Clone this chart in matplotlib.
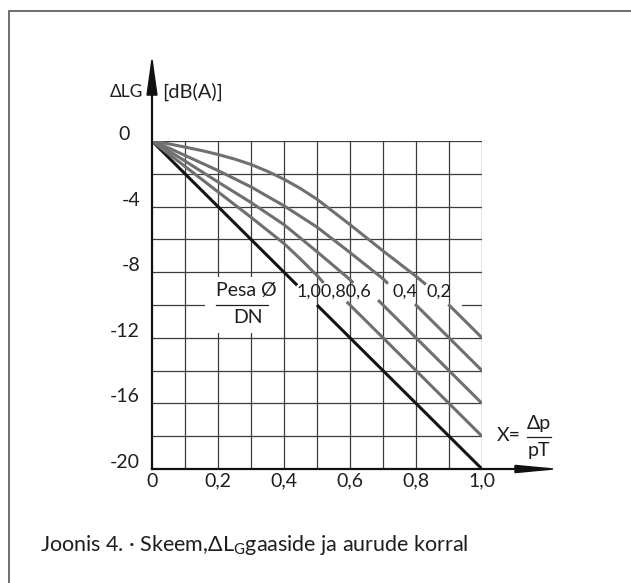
import numpy as np
import matplotlib
matplotlib.use("Agg")
import matplotlib.pyplot as plt
from matplotlib.patches import Rectangle, Polygon

plt.rcParams['font.family'] = ['Lato', 'DejaVu Sans']

# andmed (loetud pildilt)
x_ticks = [0, 0.2, 0.4, 0.6, 0.8, 1.0]
x_tick_labels = ['0', '0,2', '0,4', '0,6', '0,8', '1,0']
y_ticks = [0, -4, -8, -12, -16, -20]
y_tick_labels = ['0', '-4', '-8', '-12', '-16', '-20']

ratio_labels = ['1,0', '0,8', '0,6', '0,4', '0,2']

# ulemine (kover) osa
upper_x = [
    [0, 0.44],
    [0, 0.05, 0.1, 0.2, 0.3, 0.4, 0.45, 0.5, 0.52],
    [0, 0.05, 0.1, 0.2, 0.3, 0.4, 0.5, 0.6, 0.61],
    [0, 0.05, 0.1, 0.2, 0.3, 0.4, 0.5, 0.6, 0.7, 0.715],
    [0, 0.05, 0.1, 0.15, 0.2, 0.25, 0.3, 0.35, 0.4, 0.45, 0.5, 0.6, 0.7, 0.8, 0.83],
]
upper_y = [
    [0, -8.8],
    [0, -0.78, -1.55, -3.1, -4.65, -6.25, -7.2, -8.2, -8.65],
    [0, -0.6, -1.22, -2.5, -3.75, -5.1, -6.75, -8.45, -8.65],
    [0, -0.42, -0.88, -1.8, -2.8, -3.95, -5.25, -6.8, -8.4, -8.7],
    [0, -0.17, -0.37, -0.58, -0.82, -1.1, -1.43, -1.85, -2.33, -2.9, -3.55, -5.1, -6.7, -8.25, -8.75],
]
# alumine (sirge) osa
lower_x0 = [0.5, 0.59, 0.685, 0.797, 0.898]
lower_y0 = [-10, -9.8, -9.7, -9.94, -9.96]
lower_x1 = [1.0, 1.0, 1.0, 1.0, 1.0]
lower_y1 = [-20, -18, -16, -14, -12]

line_colors = ['#141414', '#6f6f6f', '#6f6f6f', '#6f6f6f', '#6f6f6f']

fig = plt.figure(figsize=(6.31, 5.83), dpi=100)
fig.patch.set_facecolor('white')
fig.patches.append(Rectangle((9/631, -0.1), 1.2, 1.1 - 11/583, transform=fig.transFigure,
                             fill=False, edgecolor='#555555', lw=1.2))

ax = fig.add_axes([152/631, 1 - 469/583, 330/631, 328/583])
ax.set_xlim(0, 1)
ax.set_ylim(-20, 0)
ax.axis('off')

grid_col = '#3c3c3c'
# ruudustik
for gx in np.arange(0.1, 1.01, 0.1):
    ax.plot([gx, gx], [-20, 0], color=grid_col, lw=0.9, zorder=1)
for gy in np.arange(-18, 0.1, 2):
    if gy == -10:
        ax.plot([0, 0.16], [gy, gy], color=grid_col, lw=0.9, zorder=1)
        ax.plot([0.94, 1.0], [gy, gy], color=grid_col, lw=0.9, zorder=1)
    else:
        ax.plot([0, 1], [gy, gy], color=grid_col, lw=0.9, zorder=1)

# valge ala sildi taga
ax.add_patch(Rectangle((0.16, -11.7), 0.21, 3.4, facecolor='white', edgecolor='none', zorder=2))

# teljed ja nooled
ax.plot([0, 0], [-20, 4.76], color='#111111', lw=1.6, clip_on=False, zorder=5)
ax.plot([0, 1.2], [-20, -20], color='#111111', lw=1.6, clip_on=False, zorder=5)
ax.add_patch(Polygon([[0, 4.95], [-0.015, 2.8], [0.015, 2.8]], closed=True,
                     color='#111111', clip_on=False, zorder=6))
ax.add_patch(Polygon([[1.215, -20], [1.1, -19.78], [1.1, -20.22]], closed=True,
                     color='#111111', clip_on=False, zorder=6))

for i in range(len(upper_x)):
    ax.plot(upper_x[i], upper_y[i], color=line_colors[i], lw=2.2,
            solid_capstyle='butt', solid_joinstyle='round', zorder=4)
    ax.plot([lower_x0[i], lower_x1[i]], [lower_y0[i], lower_y1[i]], color=line_colors[i],
            lw=2.2, solid_capstyle='butt', zorder=4)

fs = 14
tc = '#1e1e1e'
for xv, lab in zip(x_ticks, x_tick_labels):
    ax.text(xv, -20.75, lab, ha='center', va='center', fontsize=fs, color=tc)
for yv, lab in zip(y_ticks, y_tick_labels):
    xx = -0.067 if lab == '0' else -0.036
    ax.text(xx, yv + 0.4, lab, ha='right', va='center', fontsize=fs, color=tc)

ax.text(-0.027, 3.0, 'ΔLG', ha='right', va='center', fontsize=12.5, color=tc)
ax.text(0.03, 3.0, '[dB(A)]', ha='left', va='center', fontsize=14.5, color=tc)

# suhte sildid: kolm esimest on pildil kokku kirjutatud
ax.text(0.437, -9.2, ''.join(ratio_labels[:3]), ha='left', va='center', fontsize=13,
        color=tc, zorder=7)
ax.text(0.73, -9.2, ratio_labels[3], ha='left', va='center', fontsize=13, color=tc, zorder=7)
ax.text(0.832, -9.2, ratio_labels[4], ha='left', va='center', fontsize=13, color=tc, zorder=7)

ax.text(0.285, -9.1, 'Pesa Ø', ha='center', va='center', fontsize=14, color=tc, zorder=7)
ax.plot([0.194, 0.352], [-10, -10], color=tc, lw=0.9, zorder=7)
ax.text(0.291, -10.75, 'DN', ha='center', va='center', fontsize=14, color=tc, zorder=7)

ax.text(1.082, -17.95, 'X=', ha='center', va='center', fontsize=14, color=tc)
ax.text(1.172, -17.2, 'Δp', ha='center', va='center', fontsize=14, color=tc)
ax.plot([1.135, 1.21], [-18.05, -18.05], color=tc, lw=0.9, clip_on=False)
ax.text(1.172, -18.9, 'pT', ha='center', va='center', fontsize=14, color=tc)

fig.text(40/631, 1 - 545/583, 'Joonis 4. · Skeem,ΔL$_{\\mathregular{G}}$gaaside ja aurude korral',
         ha='left', va='center', fontsize=15.5, color=tc)

fig.savefig('out.png', dpi=100)
